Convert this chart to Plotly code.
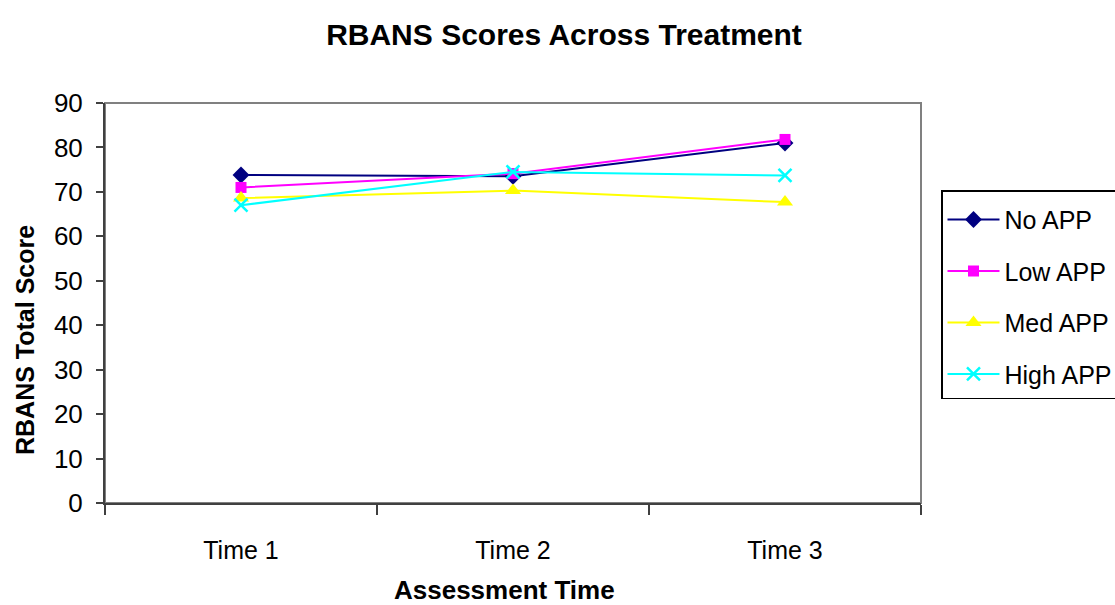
import plotly.graph_objects as go

# Assessment points and mean RBANS total score per APP group
times = ["Time 1", "Time 2", "Time 3"]
no_app = [73.8, 73.5, 81.0]
low_app = [71.0, 74.1, 81.8]
med_app = [68.6, 70.3, 67.7]
high_app = [67.0, 74.5, 73.7]

y_ticks = list(range(0, 91, 10))

FONT = "Liberation Sans, Arial, sans-serif"

# plot-area geometry in pixels
L, R, T, B = 105, 921, 103, 503
PW, PH = R - L, B - T

series = [
    ("No APP", no_app, "#000080", dict(symbol="diamond", size=13, color="#000080")),
    ("Low APP", low_app, "#FF00FF", dict(symbol="square", size=11, color="#FF00FF")),
    ("Med APP", med_app, "#FFFF00", dict(symbol="triangle-up", size=14, color="#FFFF00")),
    ("High APP", high_app, "#00FFFF", dict(symbol="x-thin", size=13, color="#00FFFF",
                                          line=dict(color="#00FFFF", width=2.5))),
]

fig = go.Figure()
for name, vals, color, marker in series:
    fig.add_trace(go.Scatter(
        x=times, y=vals, name=name, mode="lines+markers",
        line=dict(color=color, width=2), marker=marker,
        legendgroup=name,
    ))

# light frame around the plotting area
fig.add_shape(type="rect", xref="paper", yref="paper", x0=0, x1=1, y0=0, y1=1,
              line=dict(color="#808080", width=2), layer="below")

# axis titles
fig.add_annotation(text="<b>Assessment Time</b>", xref="paper", yref="paper",
                   x=(504 - L) / PW, y=(B - 590) / PH, xanchor="center", yanchor="middle",
                   showarrow=False, font=dict(family=FONT, size=26, color="black"))
fig.add_annotation(text="<b>RBANS Total Score</b>", xref="paper", yref="paper",
                   x=(25 - L) / PW, y=(B - 340) / PH, xanchor="center", yanchor="middle",
                   textangle=-90, showarrow=False, font=dict(family=FONT, size=25, color="black"))

fig.update_layout(
    width=1115, height=605,
    margin=dict(l=L, r=1115 - R, t=T, b=605 - B, autoexpand=False),
    paper_bgcolor="white", plot_bgcolor="white",
    font=dict(family=FONT, color="black", size=25),
    title=dict(text="<b>RBANS Scores Across Treatment</b>", x=564 / 1115, xanchor="center",
               y=1 - 34 / 605, yanchor="middle", yref="container",
               font=dict(family=FONT, size=30, color="black")),
    xaxis=dict(
        type="category", range=[-0.5, 2.5], tickson="boundaries",
        showline=True, linecolor="#404040", linewidth=2,
        ticks="outside", ticklen=10, tickcolor="#404040", tickwidth=2,
        showgrid=False, zeroline=False,
        tickfont=dict(family=FONT, size=25), ticklabelstandoff=24,
    ),
    yaxis=dict(
        range=[0, 90], tickvals=y_ticks,
        showline=True, linecolor="#404040", linewidth=2,
        ticks="outside", ticklen=7, tickcolor="#404040", tickwidth=2,
        showgrid=False, zeroline=False,
        tickfont=dict(family=FONT, size=26), ticklabelstandoff=8,
    ),
    legend=dict(
        x=(941 - L) / PW, xanchor="left", y=(B - 190) / PH, yanchor="top",
        bordercolor="black", borderwidth=1.5, bgcolor="white",
        font=dict(family=FONT, size=25), tracegroupgap=16, itemwidth=52,
        title=dict(text=" ", font=dict(size=4)),
    ),
)

fig.write_html("out.html")
